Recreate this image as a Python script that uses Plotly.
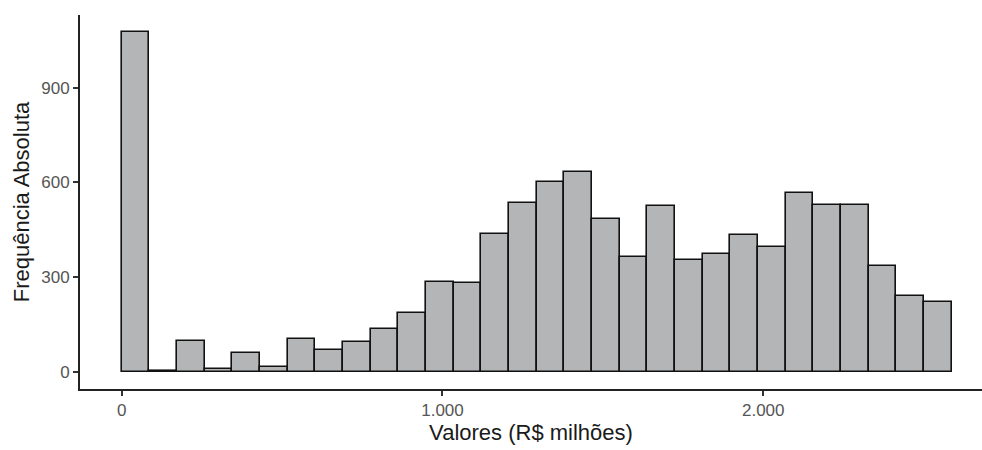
import numpy as np
import plotly.graph_objects as go

# Histogram data
counts = [1076, 4, 98, 9, 59, 15, 104, 70, 94, 137, 188, 285, 281, 436, 535,
          601, 634, 485, 363, 524, 353, 374, 435, 397, 568, 529, 529, 336, 242, 220]
bin_start = 0.0
bin_width = 86.25

x_tick_vals = [0, 1000, 2000]
x_tick_text = ["0", "1.000", "2.000"]
y_tick_vals = [0, 300, 600, 900]
y_tick_text = ["0", "300", "600", "900"]

centers = bin_start + (np.arange(len(counts)) + 0.5) * bin_width

fig = go.Figure(go.Bar(
    x=centers, y=counts, width=bin_width,
    marker=dict(color="#B3B5B6", line=dict(color="#111111", width=1.6)),
))

tick_font = dict(family="Liberation Sans, Arial, sans-serif", size=17, color="#555555")
title_font = dict(family="Liberation Sans, Arial, sans-serif", size=22, color="#1a1a1a")

fig.update_layout(
    width=982, height=450,
    margin=dict(l=80, r=0, t=15, b=61),
    paper_bgcolor="white", plot_bgcolor="white",
    bargap=0, showlegend=False,
    xaxis=dict(
        range=[-130, 2682], tickvals=x_tick_vals, ticktext=x_tick_text,
        showgrid=False, zeroline=False, showline=True, linecolor="#222222", linewidth=2,
        ticks="outside", ticklen=5, tickwidth=1.5, tickcolor="#333333",
        tickfont=tick_font, automargin=False,
        title=dict(text="Valores (R$ milhões)", font=title_font, standoff=4),
    ),
    yaxis=dict(
        range=[-54, 1130], tickvals=y_tick_vals, ticktext=y_tick_text,
        showgrid=False, zeroline=False, showline=True, linecolor="#222222", linewidth=2,
        ticks="outside", ticklen=5, tickwidth=1.5, tickcolor="#333333",
        tickfont=tick_font, automargin=False,
        title=dict(text="Frequência Absoluta", font=title_font, standoff=6),
    ),
)

fig.write_html("out.html", config={"displayModeBar": False},
               post_script="document.body.style.margin='0';document.body.style.overflow='hidden';")
